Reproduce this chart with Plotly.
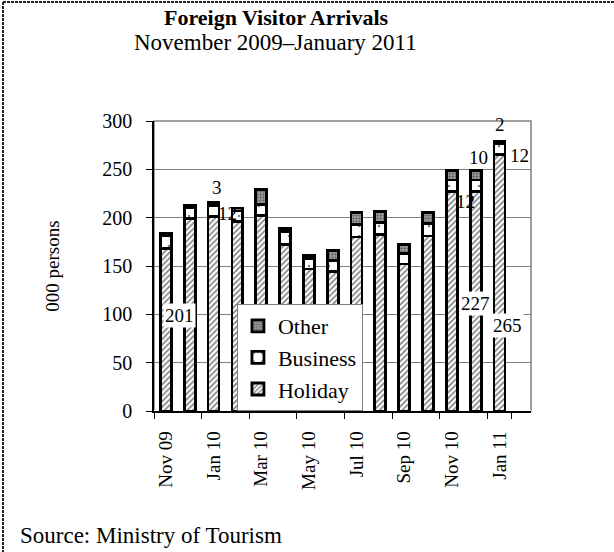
import plotly.graph_objects as go

months = ["Nov 09", "Dec 09", "Jan 10", "Feb 10", "Mar 10", "Apr 10", "May 10", "Jun 10",
          "Jul 10", "Aug 10", "Sep 10", "Oct 10", "Nov 10", "Dec 10", "Jan 11"]
holiday = [168, 199, 201, 196, 202, 172, 147, 144, 180, 183, 152, 181, 227, 227, 265]
business = [13, 11, 12, 11, 12, 14, 11, 12, 13, 12, 11, 13, 12, 12, 12]
other = [3, 3, 3, 3, 15, 3, 3, 10, 12, 11, 9, 11, 10, 10, 2]
tick_months = months[::2]

FONT = "Liberation Serif, Times New Roman, serif"

fig = go.Figure()
fig.add_bar(x=months, y=holiday, name="Holiday",
            marker=dict(color="white", line=dict(color="black", width=2.8),
                        pattern=dict(shape="/", fgcolor="black", bgcolor="white", size=4, solidity=0.4)))
fig.add_bar(x=months, y=business, name="Business",
            marker=dict(color="white", line=dict(color="black", width=2.8),
                        pattern=dict(shape=".", fgcolor="black", bgcolor="white", size=10, solidity=0.05)))
fig.add_bar(x=months, y=other, name="Other",
            marker=dict(color="#888888", line=dict(color="black", width=2.8),
                        pattern=dict(shape=".", fgcolor="#222222", bgcolor="#aaaaaa", size=3, solidity=0.5)))

# data labels for three months, nudged like in the original
labelled = {"Jan 10": [(-34, -2), (14, -3), (3, 16)],
            "Dec 10": [(0, -2), (-10, -16), (3, 18)],
            "Jan 11": [(8, -43), (20, -6), (0, 18)]}
for m, shifts in labelled.items():
    i = months.index(m)
    segs = [(0, holiday[i]), (holiday[i], business[i]), (holiday[i] + business[i], other[i])]
    for k, ((base, val), (dx, dy)) in enumerate(zip(segs, shifts)):
        fig.add_annotation(x=m, y=base + val / 2, text=str(val), showarrow=False,
                           xshift=dx, yshift=dy, font=dict(family=FONT, size=19, color="black"),
                           bgcolor="white" if k == 0 else "rgba(0,0,0,0)")

# title, subtitle and source as free text
fig.add_annotation(text="<b>Foreign Visitor Arrivals</b>", xref="paper", yref="paper",
                   x=0.3236, y=1.3586, xanchor="center", yanchor="middle", showarrow=False,
                   font=dict(family=FONT, size=22, color="black"))
fig.add_annotation(text="November 2009–January 2011", xref="paper", yref="paper",
                   x=0.3236, y=1.272, xanchor="center", yanchor="middle", showarrow=False,
                   font=dict(family=FONT, size=23, color="black"))
fig.add_annotation(text="Source: Ministry of Tourism", xref="paper", yref="paper",
                   x=-0.3607, y=-0.431, xanchor="left", yanchor="middle", showarrow=False,
                   font=dict(family=FONT, size=23, color="black"))

fig.update_layout(
    width=614, height=552,
    margin=dict(l=154, r=83, t=121, b=141),
    barmode="stack", bargap=0.54,
    paper_bgcolor="white", plot_bgcolor="white",
    font=dict(family=FONT, size=19, color="black"),
    legend=dict(x=0.22, y=0.369, xanchor="left", yanchor="top", traceorder="reversed",
                bgcolor="white", bordercolor="#808080", borderwidth=1,
                font=dict(size=22), itemwidth=30, tracegroupgap=0),
    xaxis=dict(type="category", tickvals=tick_months, ticktext=tick_months, tickangle=-90,
               ticks="outside", tickson="boundaries", ticklen=6, tickcolor="black",
               ticklabelstandoff=11,
               showline=True, linecolor="black", linewidth=1.5, tickfont=dict(size=19)),
    yaxis=dict(range=[0, 300], dtick=50, ticks="outside", ticklen=6, tickcolor="black",
               ticklabelstandoff=10,
               showline=True, linecolor="black", linewidth=1.5, showgrid=True,
               gridcolor="#808080", gridwidth=1, tickfont=dict(size=20),
               title=dict(text="000 persons", font=dict(size=19), standoff=38)),
    shapes=[
        dict(type="rect", xref="paper", yref="paper", x0=0, x1=1, y0=0, y1=1,
             line=dict(color="#808080", width=1.5), layer="below"),
        dict(type="line", xref="paper", yref="paper", x0=-0.4005, x1=1.23, y0=1.41, y1=1.41,
             line=dict(color="#222222", width=2, dash="3px,1px")),
        dict(type="line", xref="paper", yref="paper", x0=-0.4005, x1=-0.4005, y0=1.41, y1=-0.49,
             line=dict(color="#222222", width=2, dash="3px,1px")),
    ],
)

# drop the default 8px page margin so the figure sits at the window corner
fig.write_html("out.html", config={"displayModeBar": False},
               post_script="document.body.style.margin='0';")
